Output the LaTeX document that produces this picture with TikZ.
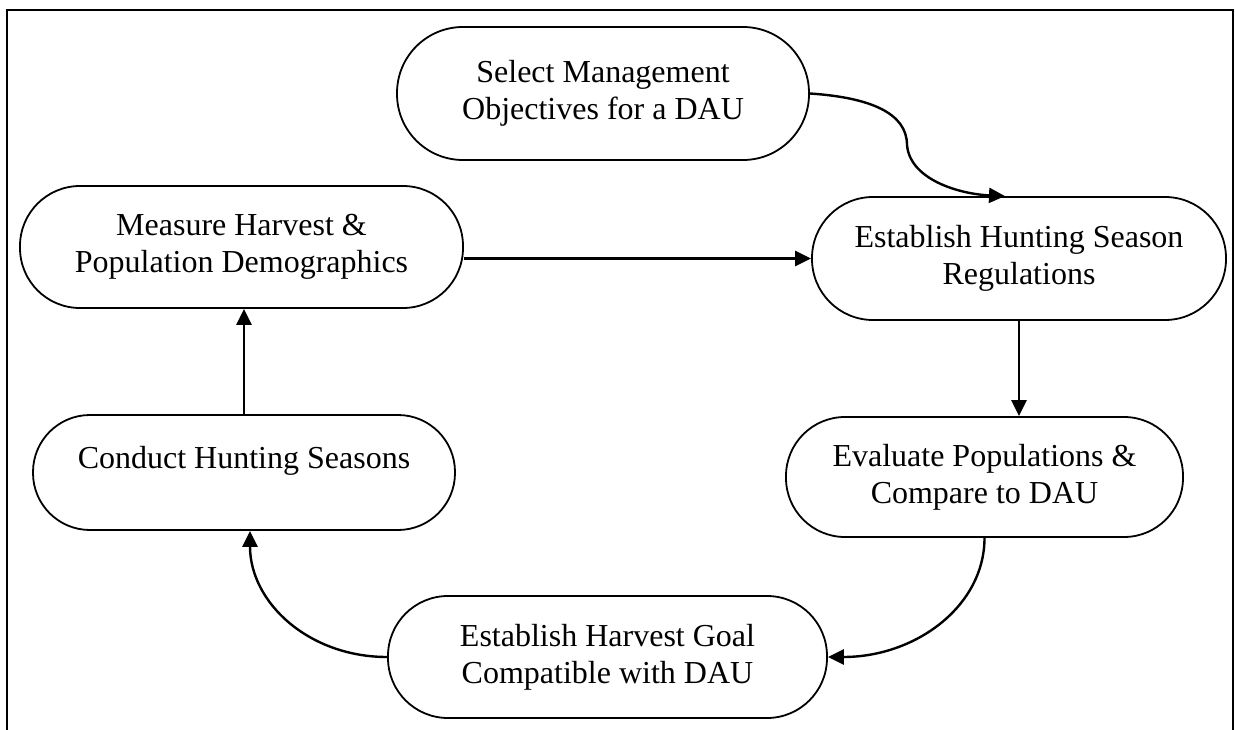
\documentclass[tikz,border=0pt]{standalone}
\usepackage{fontspec}
\setmainfont{Liberation Serif}
\usetikzlibrary{arrows.meta,calc}
\tikzset{
  term/.style={draw, line width=1.8pt, align=center, inner sep=0pt,
    font=\fontsize{32}{37}\selectfont},
  plain/.style={inner sep=0pt, font=\fontsize{32}{37}\selectfont},
  connline/.style={line width=2.4pt},
  conn/.style={connline, -{Triangle[length=16pt,width=15pt]}},
  frameline/.style={line width=2.6pt}
}
\begin{document}
\begin{tikzpicture}[x=1pt,y=-1pt]
\useasboundingbox (0,0) rectangle (1235,730);
% outer frame (open at bottom)
\coordinate (f1) at (7,732);
\coordinate (f2) at (7,10);
\coordinate (f3) at (1233,10);
\coordinate (f4) at (1233,732);
\draw[frameline] (f1) -- (f2) -- (f3) -- (f4);

% nodes
\node[term, minimum width=412pt, minimum height=133pt, rounded corners=66pt] (A) at (603,93.5)
  {Select Management\\Objectives for a DAU};
\node[term, minimum width=443pt, minimum height=122pt, rounded corners=60pt] (B) at (241.5,247)
  {Measure Harvest \&\\Population Demographics};
\node[term, minimum width=414pt, minimum height=123pt, rounded corners=61pt] (C) at (1019,258.5)
  {Establish Hunting Season\\Regulations};
\node[term, minimum width=422pt, minimum height=115pt, rounded corners=57pt] (D) at (244,472.5) {};
\node[plain, anchor=base] (Dt) at (244,468) {Conduct Hunting Seasons};
\node[term, minimum width=397pt, minimum height=120pt, rounded corners=59pt] (E) at (984.5,477)
  {Evaluate Populations \&\\Compare to DAU};
\node[term, minimum width=439pt, minimum height=122pt, rounded corners=60pt] (F) at (607.5,657)
  {Establish Harvest Goal\\Compatible with DAU};

% connectors
\coordinate (ac) at (907,145);
\draw[connline] (A.east) .. controls +(60,4) and +(0,-32) .. (ac);
\draw[conn] (ac) .. controls +(3,35) and +(-45,-2) .. ([xshift=-14pt]C.north);
\draw[conn] (B.east |- C.west) -- (C.west);
\draw[conn] (C.south) -- (C.south |- E.north);
\draw[conn] (E.south) .. controls +(0,68) and +(88,0) .. (F.east);
\draw[conn] (F.west) .. controls +(-78,0) and +(0,72) .. ([xshift=6pt]D.south);
\draw[conn] (D.north) -- (D.north |- B.south);
\end{tikzpicture}
\end{document}
